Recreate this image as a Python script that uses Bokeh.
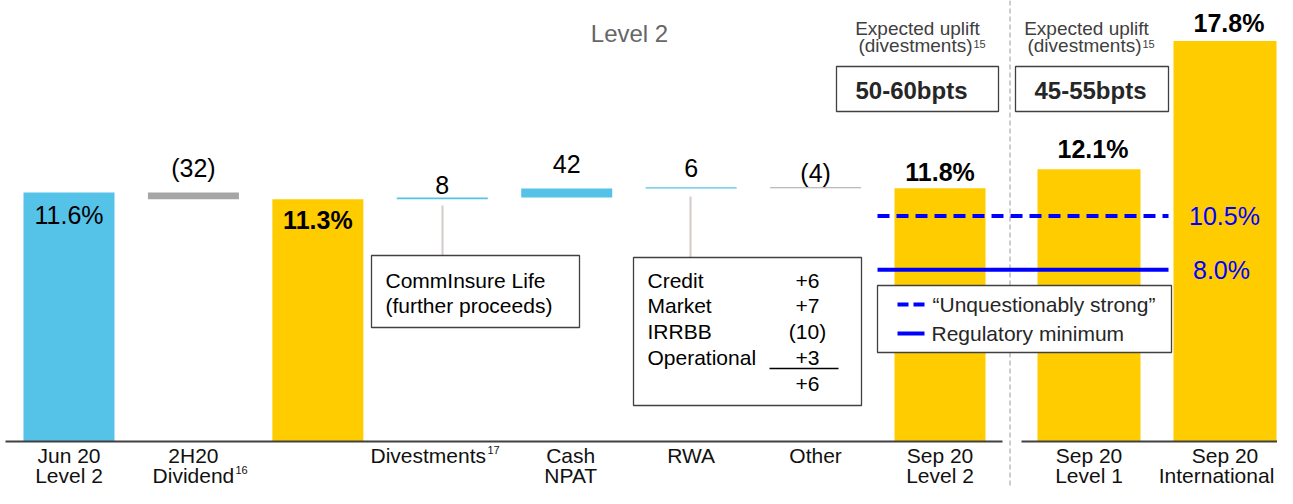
from bokeh.plotting import figure
from bokeh.models import Range1d
from bokeh.core.properties import value
from bokeh.embed import file_html
from bokeh.resources import INLINE

# ---------------- data ----------------
start_label = "Jun 20\nLevel 2"
start_value = 11.6                      # CET1 %, Jun 20 Level 2
movement_labels = ["2H20\nDividend", "Divestments", "Cash\nNPAT", "RWA", "Other"]
movement_bps = [-32, 8, 42, 6, -4]
end_label = "Sep 20\nLevel 2"
right_labels = ["Sep 20\nLevel 1", "Sep 20\nInternational"]
right_values = [12.1, 17.8]
unquestionably_strong = 10.5
regulatory_minimum = 8.0
rwa_items = ["Credit", "Market", "IRRBB", "Operational"]
rwa_bps = [6, 7, -10, 3]
insure_note = ["CommInsure Life", "(further proceeds)"]
uplift_texts = ["50-60bpts", "45-55bpts"]
subtitle = "Level 2"

# ---------------- layout / style ----------------
FONT = value("Liberation Sans")
BLUE = "#55C2E8"
YELLOW = "#FFCC00"
GREY = "#A6A6A6"
LINE_BLUE = "#0000FF"
DARK = "#404040"
W, H = 1277, 488
BASE = 441                 # pixel y of the zero line
PX_L, PX_R = 21.47, 22.5   # pixels per percentage point (left / right panel)
X0, STEP, BW = 68.5, 124.43, 91
RX0, RSTEP, RBW = 1088.5, 136, 103

p = figure(width=W, height=H, output_backend="svg", toolbar_location=None,
           x_range=Range1d(0, W),
           y_range=Range1d(-(H - BASE) / PX_L, BASE / PX_L),
           x_axis_location=None, y_axis_location=None, min_border=0)
p.extra_y_ranges = {"right": Range1d(-(H - BASE) / PX_R, BASE / PX_R),
                    "px": Range1d(H, 0)}
p.grid.visible = False
p.outline_line_color = None
p.background_fill_color = "white"
p.border_fill_color = "white"


def txt(xs, ys, texts, size, color="#000000", bold=False, align="center",
        baseline="middle", rng="px", y_offset=0):
    kw = {}
    if rng is not None:
        kw["y_range_name"] = rng
    p.text(x=xs, y=ys, text=texts, text_font=FONT, text_font_size=size,
           text_color=color, text_font_style="bold" if bold else "normal",
           text_align=align, text_baseline=baseline, y_offset=y_offset, **kw)


def fmt_bps(v):
    return f"({abs(v)})" if v < 0 else f"{v}"


def fmt_signed(v):
    return f"({abs(v)})" if v < 0 else f"+{v}"


# ---------------- waterfall (left panel) ----------------
cols = []   # (label, bottom, top, color)
running = start_value
cols.append((start_label, 0, running, BLUE))
for k, (lab, bps) in enumerate(zip(movement_labels, movement_bps)):
    new = running + bps / 100
    cols.append((lab, min(running, new), max(running, new), BLUE if bps > 0 else GREY))
    running = new
    if k == 0:
        cols.append(("", 0, running, YELLOW))   # subtotal after dividend
cols.append((end_label, 0, running, YELLOW))

xc = [X0 + i * STEP for i in range(len(cols))]
p.quad(left=[x - BW / 2 for x in xc], right=[x + BW / 2 for x in xc],
       bottom=[c[1] for c in cols], top=[c[2] for c in cols],
       fill_color=[c[3] for c in cols], line_color=None)

# right panel bars
rxc = [RX0 + i * RSTEP for i in range(len(right_values))]
p.quad(left=[x - RBW / 2 for x in rxc], right=[x + RBW / 2 for x in rxc],
       bottom=[0] * len(right_values), top=right_values,
       fill_color=YELLOW, line_color=None, y_range_name="right")

# baseline
p.segment(x0=[5, 1021], y0=[0, 0], x1=[1002, W], y1=[0, 0],
          line_color=DARK, line_width=2)

# value labels
txt([xc[0]], [cols[0][2]], [f"{cols[0][2]:.1f}%"], "25px", rng=None, y_offset=23)
txt([xc[2]], [cols[2][2]], [f"{cols[2][2]:.1f}%"], "25px", bold=True, rng=None, y_offset=21)
txt([xc[-1]], [cols[-1][2]], [f"{cols[-1][2]:.1f}%"], "25px", bold=True, rng=None, y_offset=-16)
mv_idx = [1, 3, 4, 5, 6]
gaps = [24, 13, 25, 19, 14]
for i, bps, g in zip(mv_idx, movement_bps, gaps):
    txt([xc[i]], [cols[i][2]], [fmt_bps(bps)], "25px", rng=None, y_offset=-g)
for x, v, g in zip(rxc, right_values, [20, 18]):
    txt([x + 4], [v], [f"{v:.1f}%"], "25px", bold=True, rng="right", y_offset=-g)

# category labels (two rows)
row_y = [455, 475]
all_labels = [c[0] for c in cols] + right_labels
all_x = xc + rxc
shift = {3: -14, 4: 4}
for j, (lab, x) in enumerate(zip(all_labels, all_x)):
    for r, line in enumerate(lab.split("\n")):
        if not line:
            continue
        xx = x + shift.get(j, 0)
        if line == "International":
            xx = min(xx, W - 61)
        txt([xx], [row_y[r]], [line], "21px", color="#111111")
# superscripts
txt([235], [469], ["16"], "11px", color="#111111", align="left")
txt([487], [449], ["17"], "11px", color="#111111", align="left")

# separator between panels
p.segment(x0=[1009.5], y0=[0], x1=[1009.5], y1=[H], y_range_name="px",
          line_color="#9A9A9A", line_width=1, line_dash="5 3")

# threshold lines
p.segment(x0=[877], y0=[unquestionably_strong], x1=[1168], y1=[unquestionably_strong],
          line_color=LINE_BLUE, line_width=4, line_dash="12 7")
p.segment(x0=[877], y0=[regulatory_minimum], x1=[1168], y1=[regulatory_minimum],
          line_color=LINE_BLUE, line_width=4)
txt([1224], [unquestionably_strong], [f"{unquestionably_strong:.1f}%"], "25px",
    color=LINE_BLUE, rng=None)
txt([1221], [regulatory_minimum], [f"{regulatory_minimum:.1f}%"], "25px",
    color=LINE_BLUE, rng=None)

# legend box
p.quad(left=[877], right=[1171], top=[285], bottom=[352], y_range_name="px",
       fill_color="white", line_color=DARK, line_width=1.3)
p.segment(x0=[897], y0=[304], x1=[924], y1=[304], y_range_name="px",
          line_color=LINE_BLUE, line_width=4, line_dash="11 5")
p.segment(x0=[897], y0=[333], x1=[924], y1=[333], y_range_name="px",
          line_color=LINE_BLUE, line_width=4)
txt([932, 931], [304, 333], ["\u201cUnquestionably strong\u201d", "Regulatory minimum"],
    "21px", color="#262626", align="left")

# annotation: divestments
p.segment(x0=[442], y0=[205], x1=[442], y1=[255], y_range_name="px",
          line_color="#D3CBC7", line_width=2)
p.quad(left=[371], right=[579], top=[255], bottom=[327], y_range_name="px",
       fill_color="white", line_color=DARK, line_width=1.3)
txt([385, 385], [280, 305], insure_note, "21px", align="left")

# annotation: RWA breakdown
p.segment(x0=[690], y0=[196], x1=[690], y1=[257], y_range_name="px",
          line_color="#D3CBC7", line_width=2)
p.quad(left=[633], right=[861], top=[257], bottom=[405], y_range_name="px",
       fill_color="white", line_color=DARK, line_width=1.3)
rows_y = [280, 305, 331, 357]
txt([647] * len(rwa_items), rows_y, rwa_items, "21px", align="left")
txt([807] * len(rwa_items), rows_y, [fmt_signed(v) for v in rwa_bps], "21px")
p.segment(x0=[769], y0=[368], x1=[838], y1=[368], y_range_name="px",
          line_color="#000000", line_width=1.3)
txt([807], [383], [fmt_signed(sum(rwa_bps))], "21px")

# expected uplift boxes
for cx, bl, br, tx, t in [(917, 836, 998, 911, uplift_texts[0]),
                          (1086, 1015, 1168, 1090, uplift_texts[1])]:
    txt([cx], [28], ["Expected uplift"], "19px", color=DARK)
    txt([cx + 55], [45], ["(divestments)"], "19px", color=DARK, align="right")
    txt([cx + 56], [43], ["15"], "11px", color=DARK, align="left")
    p.quad(left=[bl], right=[br], top=[66], bottom=[111], y_range_name="px",
           fill_color="white", line_color=DARK, line_width=1.3)
    txt([tx], [90], [t], "24px", color="#262626", bold=True)

# subtitle
txt([629], [33], [subtitle], "24px", color="#666666")

open("out.html", "w").write(file_html(p, INLINE))
